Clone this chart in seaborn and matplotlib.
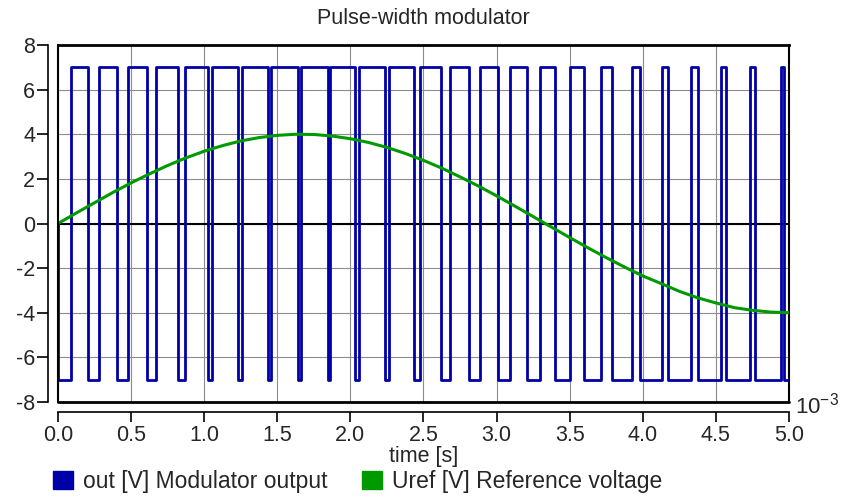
import numpy as np
import pandas as pd
import matplotlib
matplotlib.use("Agg")
import matplotlib.pyplot as plt
from matplotlib.patches import Patch
import seaborn as sns

# modulator output: switching instants [ms] and level after each instant [V]
out_t = [0.0, 0.0, 0.089, 0.205, 0.283, 0.406, 0.477, 0.608, 0.671, 0.824, 0.870,
         1.025, 1.053, 1.228, 1.258, 1.434, 1.459, 1.639, 1.662, 1.845, 1.863,
         2.034, 2.062, 2.240, 2.265, 2.434, 2.473, 2.623, 2.678, 2.810, 2.884,
         3.012, 3.089, 3.205, 3.295, 3.399, 3.502, 3.598, 3.712, 3.786, 3.927,
         3.979, 4.130, 4.173, 4.329, 4.375, 4.534, 4.569, 4.735, 4.767, 4.945,
         4.968, 5.0]
out_v = [0, -7, 7, -7, 7, -7, 7, -7, 7, -7, 7,
         -7, 7, -7, 7, -7, 7, -7, 7, -7, 7,
         -7, 7, -7, 7, -7, 7, -7, 7, -7, 7,
         -7, 7, -7, 7, -7, 7, -7, 7, -7, 7,
         -7, 7, -7, 7, -7, 7, -7, 7, -7, 7,
         -7, -7]

# reference voltage [V], read every 0.125 ms
ref_t = [i * 0.125 for i in range(41)]
ref_v = [0.0, 0.47, 0.93, 1.39, 1.82, 2.22, 2.60, 2.94, 3.24, 3.49, 3.70,
         3.85, 3.95, 4.00, 3.99, 3.92, 3.80, 3.63, 3.41, 3.14, 2.83,
         2.48, 2.09, 1.68, 1.24, 0.78, 0.31, -0.16, -0.63, -1.09, -1.53,
         -1.95, -2.35, -2.69, -3.04, -3.33, -3.56, -3.77, -3.89, -3.97, -4.0]

x_ticks = [0.0, 0.5, 1.0, 1.5, 2.0, 2.5, 3.0, 3.5, 4.0, 4.5, 5.0]
y_ticks = [-8, -6, -4, -2, 0, 2, 4, 6, 8]

blue = "#0000a8"
green = "#009a00"

sns.set_style("white")
plt.rcParams['font.family'] = ['Liberation Sans', 'DejaVu Sans']
plt.rcParams['mathtext.fontset'] = 'custom'
plt.rcParams['mathtext.rm'] = 'Liberation Sans'

df_out = pd.DataFrame({"t": out_t, "v": out_v})
df_ref = pd.DataFrame({"t": ref_t, "v": ref_v})

fig = plt.figure(figsize=(8.54, 4.98), dpi=100)
ax = fig.add_axes([58 / 854, 1 - 402 / 498, 731 / 854, 357 / 498])

ax.grid(True, color="#8c8c8c", lw=0.8)
ax.axhline(0, color="black", lw=1.5, zorder=1.5)

sns.lineplot(data=df_out, x="t", y="v", ax=ax, color=blue, lw=2.0,
             estimator=None, sort=False, drawstyle="steps-post", zorder=3)
sns.lineplot(data=df_ref, x="t", y="v", ax=ax, color=green, lw=2.2,
             estimator=None, sort=False, zorder=4)

ax.set_xlim(0, 5)
ax.set_ylim(-8, 8)
ax.set_xticks(x_ticks)
ax.set_xticklabels([f"{v:.1f}" for v in x_ticks])
ax.set_yticks(y_ticks)
ax.set_yticklabels([str(v) for v in y_ticks])
ax.tick_params(axis="both", labelsize=15.5, length=7, width=1.2, color="black",
               direction="out", pad=2, bottom=True, left=True)
ax.tick_params(axis="y", length=8, pad=1)

for side in ["left", "bottom"]:
    ax.spines[side].set_position(("outward", 7.5))
    ax.spines[side].set_color("black")
    ax.spines[side].set_linewidth(1.2)
ax.spines["left"].set_bounds(-8, 8)
ax.spines["bottom"].set_bounds(0, 5)
ax.spines["top"].set_color("black")
ax.spines["top"].set_linewidth(2)
ax.spines["right"].set_color("black")
ax.spines["right"].set_linewidth(1.5)
# inner frame
ax.axvline(0, color="black", lw=1.5, zorder=5, clip_on=False)
ax.axhline(-8, color="black", lw=2, zorder=5, clip_on=False)

ax.set_xlabel("time [s]", fontsize=15.5, labelpad=0)
ax.set_ylabel("")
ax.set_title("Pulse-width modulator", fontsize=15.5, pad=15)

fig.text(795 / 854, 1 - 406 / 498, r"10$^{-3}$", fontsize=16, va="center", ha="left")

handles = [Patch(facecolor=blue, edgecolor=blue), Patch(facecolor=green, edgecolor=green)]
fig.legend(handles, ["out [V] Modulator output", "Uref [V] Reference voltage"],
           loc="lower left", bbox_to_anchor=(37 / 854, -0.022), ncol=2, frameon=False,
           fontsize=16.5, handlelength=0.87, handleheight=0.87, handletextpad=0.44,
           columnspacing=1.5, borderaxespad=0.3)

fig.savefig("out.png", dpi=100)
